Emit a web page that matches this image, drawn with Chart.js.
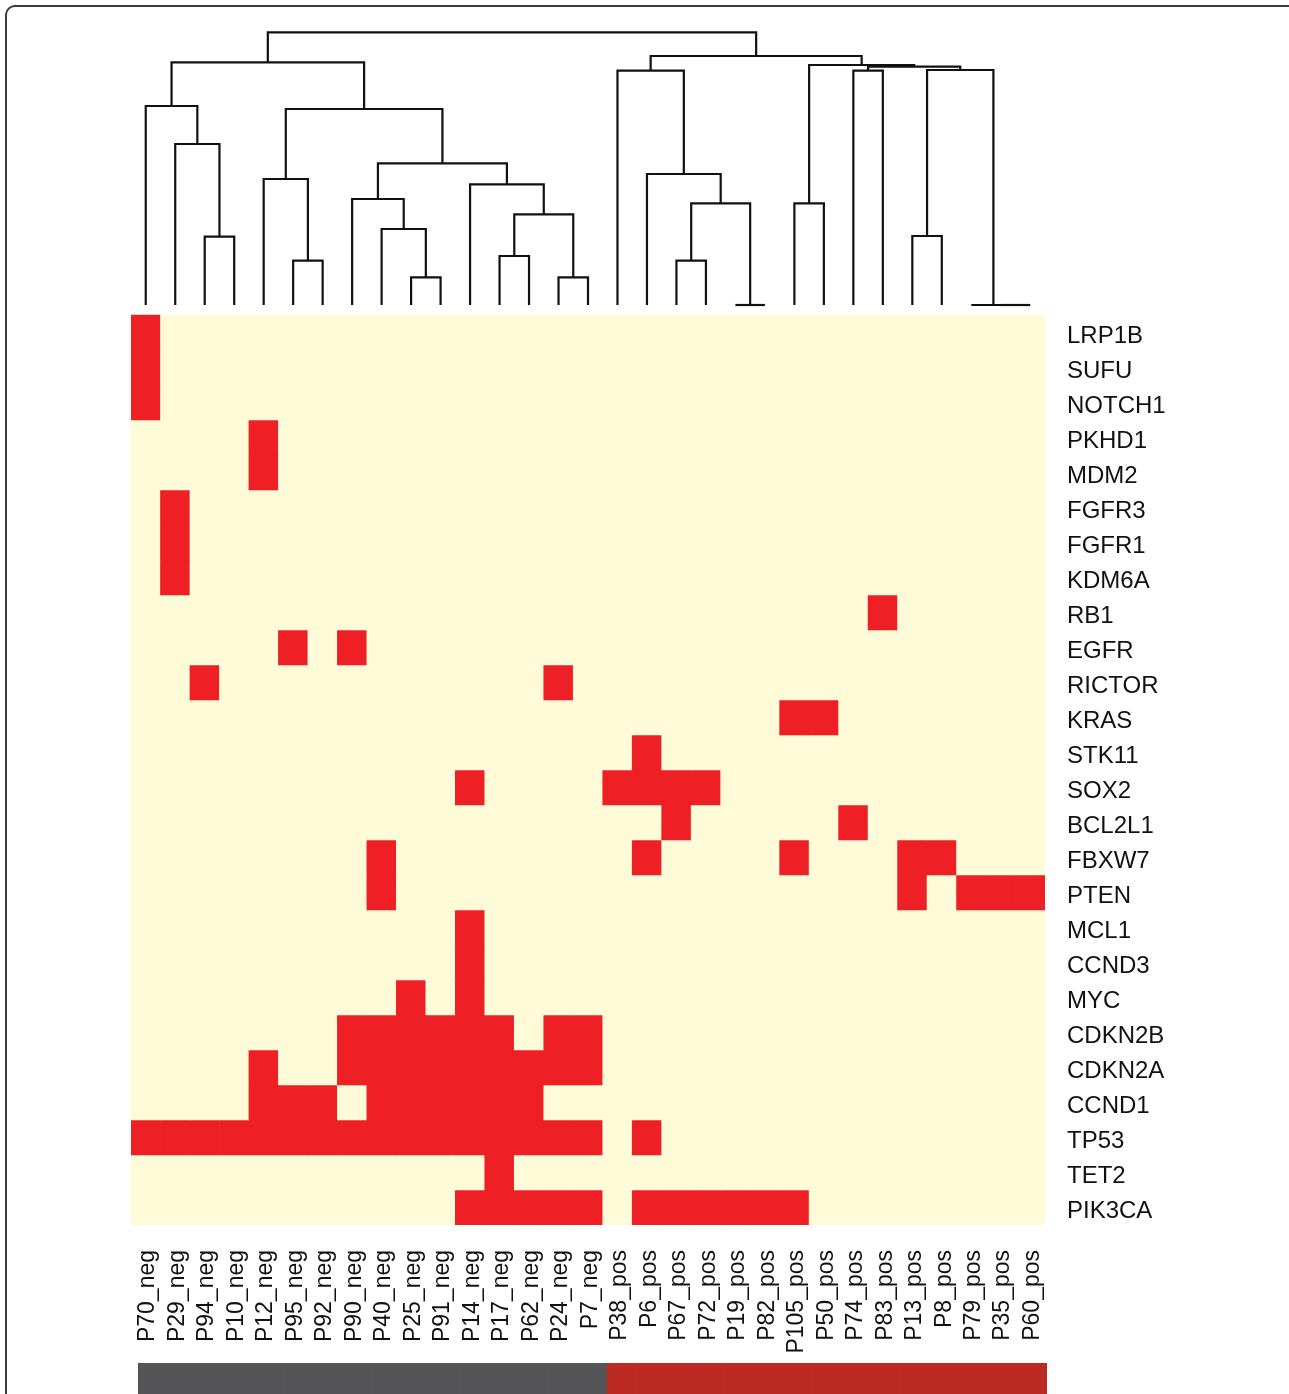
<!DOCTYPE html>
<html>
<head>
<meta charset="utf-8">
<script src="https://cdn.jsdelivr.net/npm/chart.js@4.4.1/dist/chart.umd.min.js"></script>
<style>
  html, body { margin: 0; padding: 0; background: #fff; }
  #page { position: relative; width: 1289px; height: 1394px; overflow: hidden; }
  #frame { position: absolute; left: 5px; top: 5px; width: 1300px; height: 1420px;
           border: 2px solid #3a3a3a; border-radius: 10px; box-sizing: border-box; }
  #mainWrap { position: absolute; left: 0; top: 0; width: 1289px; height: 1360px; }
  #barWrap { position: absolute; left: 0; top: 1363px; width: 1289px; height: 31px; }
</style>
</head>
<body>
<div id="page">
  <div id="frame"></div>
  <div id="mainWrap"><canvas id="heatChart"></canvas></div>
  <div id="barWrap"><canvas id="groupChart"></canvas></div>
</div>
<script>
// samples, in dendrogram order
const samples = ["P70_neg", "P29_neg", "P94_neg", "P10_neg", "P12_neg", "P95_neg", "P92_neg", "P90_neg",
    "P40_neg", "P25_neg", "P91_neg", "P14_neg", "P17_neg", "P62_neg", "P24_neg", "P7_neg",
    "P38_pos", "P6_pos", "P67_pos", "P72_pos", "P19_pos", "P82_pos", "P105_pos", "P50_pos",
    "P74_pos", "P83_pos", "P13_pos", "P8_pos", "P79_pos", "P35_pos", "P60_pos"];

const genes = ["LRP1B", "SUFU", "NOTCH1", "PKHD1", "MDM2", "FGFR3", "FGFR1", "KDM6A", "RB1", "EGFR",
    "RICTOR", "KRAS", "STK11", "SOX2", "BCL2L1", "FBXW7", "PTEN", "MCL1", "CCND3", "MYC",
    "CDKN2B", "CDKN2A", "CCND1", "TP53", "TET2", "PIK3CA"];

// altered samples (column index) for each gene
const alteredCols = [
    [0], [0], [0], [4], [4], [1], [1], [1], [25], [5, 7],
    [2, 14], [22, 23], [17], [11, 16, 17, 18, 19], [18, 24], [8, 17, 22, 26, 27], [8, 26, 28, 29, 30], [11], [11], [9, 11],
    [7, 8, 9, 10, 11, 12, 14, 15],
    [4, 7, 8, 9, 10, 11, 12, 13, 14, 15],
    [4, 5, 6, 8, 9, 10, 11, 12, 13],
    [0, 1, 2, 3, 4, 5, 6, 7, 8, 9, 10, 11, 12, 13, 14, 15, 17],
    [12],
    [11, 12, 13, 14, 15, 17, 18, 19, 20, 21, 22]
];

// column clustering, hclust style: negative = sample (-(index+1)), positive = earlier merge (1-based)
const mergeLeft  = [-21, -30, -29, -10, -15, -13, -6, -19, -3, -27, -9, 6, -8, 8, -23, -18, -5, -12, 13, -2, 17, -1, 22, -25, 10, 24, 15, -17, 28, 23];
const mergeRight = [-22, -31, 2, -11, -16, -14, -7, -20, -4, -28, 4, 5, 11, 1, -24, 14, 7, 12, 18, 9, 19, 20, 21, -26, 3, 25, 26, 16, 27, 29];
const mergeHeight = [0, 0, 0, 27.7, 27.7, 49, 44.3, 44.3, 68.3, 69, 76, 90.7, 106, 101.7, 101.7, 131, 126, 120.7, 141.7, 161, 196, 199, 242.7, 234.3, 235, 238.3, 240, 234.3, 249, 272.7];

const HEAT_RED = "#ee1f25";
const HEAT_CREAM = "#fffad7";
const groupColors = { neg: "#555557", pos: "#bd2a22" };

// layout in pixels
const TOP = 26, BASE = 305, HEAT_TOP = 315, BOTTOM = 1225;
const ROW_H = (BOTTOM - HEAT_TOP) / genes.length;

const nRows = genes.length;

function nodeX(ref, xs) {
    return ref < 0 ? -ref - 1 : xs[ref - 1];
}
function nodeH(ref) {
    return ref < 0 ? 0 : mergeHeight[ref - 1];
}

function dendroDatasets() {
    let xs = [];
    let sets = [];
    mergeLeft.map((l, k) => {
        let r = mergeRight[k];
        let xl = nodeX(l, xs), xr = nodeX(r, xs);
        let h = mergeHeight[k];
        xs.push((xl + xr) / 2);
        sets.push({
            type: "line",
            xAxisID: "x",
            yAxisID: "yd",
            data: [{x: xl, y: nodeH(l)}, {x: xl, y: h}, {x: xr, y: h}, {x: xr, y: nodeH(r)}],
            borderColor: "#111",
            borderWidth: 2.2,
            pointRadius: 0,
            tension: 0,
            fill: false,
            clip: false
        });
    });
    return sets;
}

function heatDatasets() {
    return genes.map((gene, r) => ({
        type: "bar",
        label: gene,
        xAxisID: "x",
        yAxisID: "y",
        data: samples.map((s, i) => ({x: i, y: [nRows - 1 - r, nRows - r]})),
        backgroundColor: samples.map((s, i) => alteredCols[r].includes(i) ? HEAT_RED : HEAT_CREAM),
        borderWidth: 0,
        grouped: false,
        barPercentage: 1,
        categoryPercentage: 1
    }));
}

function noScalePadding(scale) {
    scale.paddingTop = 0;
    scale.paddingBottom = 0;
    scale.paddingLeft = 0;
    scale.paddingRight = 0;
}

const heatConfig = {
    type: "bar",
    data: { datasets: heatDatasets().concat(dendroDatasets()) },
    options: {
        responsive: true,
        maintainAspectRatio: false,
        animation: false,
        layout: { padding: { left: 131, top: TOP, right: 0, bottom: 0 } },
        plugins: { legend: { display: false }, tooltip: { enabled: false } },
        scales: {
            x: {
                type: "linear",
                min: -0.5,
                max: samples.length - 0.5,
                offset: false,
                grid: { display: false, drawTicks: false },
                border: { display: false },
                afterBuildTicks: (scale) => { scale.ticks = samples.map((s, i) => ({value: i + 0.08})); },
                afterFit: (scale) => { scale.height = 1360 - BOTTOM; noScalePadding(scale); },
                ticks: {
                    autoSkip: false,
                    maxRotation: 90,
                    minRotation: 90,
                    padding: 25,
                    color: "#111",
                    font: { family: "'Liberation Sans', Arial, sans-serif", size: 23 },
                    callback: (value, index) => samples[index]
                }
            },
            y: {
                type: "linear",
                position: "right",
                min: 0,
                max: (BOTTOM - TOP) / ROW_H,
                grid: { display: false, drawTicks: false },
                border: { display: false },
                afterBuildTicks: (scale) => { scale.ticks = genes.map((g, r) => ({value: nRows - r - 0.5 - 0.12})); },
                afterFit: (scale) => { scale.width = 1289 - 1045; noScalePadding(scale); },
                ticks: {
                    padding: 22,
                    color: "#111",
                    font: { family: "'Liberation Sans', Arial, sans-serif", size: 24 },
                    callback: (value, index) => genes[index]
                }
            },
            yd: {
                type: "linear",
                display: false,
                min: -(BOTTOM - BASE),
                max: BASE - TOP
            }
        }
    }
};

new Chart(document.getElementById("heatChart"), heatConfig);

const groupConfig = {
    type: "bar",
    data: {
        labels: samples,
        datasets: [{
            data: samples.map(() => 1),
            backgroundColor: samples.map((s) => groupColors[s.split("_")[1]]),
            borderWidth: 0,
            barPercentage: 1,
            categoryPercentage: 1
        }]
    },
    options: {
        responsive: true,
        maintainAspectRatio: false,
        animation: false,
        layout: { padding: { left: 138, right: 1289 - 1047, top: 0, bottom: 0 } },
        plugins: { legend: { display: false }, tooltip: { enabled: false } },
        scales: {
            x: { display: false },
            y: { display: false, min: 0, max: 1 }
        }
    }
};

new Chart(document.getElementById("groupChart"), groupConfig);
</script>
</body>
</html>
